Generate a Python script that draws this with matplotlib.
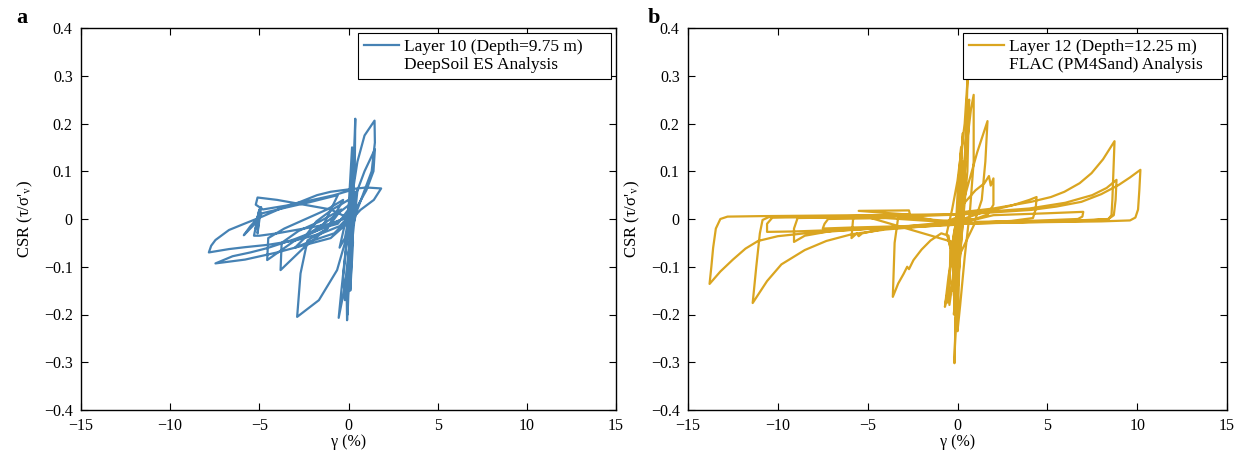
import numpy as np
import matplotlib.pyplot as plt
from matplotlib.lines import Line2D

plt.rcParams['font.family'] = ['Liberation Serif', 'DejaVu Serif']
plt.rcParams['mathtext.fontset'] = 'stix'

x_ticks = [-15, -10, -5, 0, 5, 10, 15]
x_tick_labels = ['\u221215', '\u221210', '\u22125', '0', '5', '10', '15']
y_ticks = [-0.4, -0.3, -0.2, -0.1, 0, 0.1, 0.2, 0.3, 0.4]
y_tick_labels = ['\u22120.4', '\u22120.3', '\u22120.2', '\u22120.1', '0', '0.1', '0.2', '0.3', '0.4']

# panel a: DeepSoil ES, layer 10 (strain %, CSR)
deepsoil_strain = [
    0.0, 0.2, 0.1, -0.2, -0.5, -0.2, 0.2, 0.35, 0.38, 0.3, 0.15, 0.0, -0.1, -0.08, 0.0, 0.1, 0.25,
    0.5, 0.9, 1.46, 1.48, 1.3, 0.9, 0.5, 0.2, 0.0, -0.2, -0.55, -0.4, -0.2, 0.0, 0.4, 0.9, 1.48, 1.4, 1.0,
    0.4, -0.5, -1.5, -3.0, -4.5, -5.8, -6.7, -7.83, -7.7, -7.46, -6.7, -5.78, -4.84, -3.8, -2.7, -1.76, -1.0, 0.0, 1.0, 1.83,
    1.42, 0.67, 0.2, 0.0, -0.05, 0.05, 0.2,
    -1.0, -2.5, -4.0, -5.8, -7.46, -6.5, -5.5, -4.56, -3.0, -1.5, 0.0,
    -1.0, -2.5, -4.0, -5.0, -5.3, -5.0, -5.2, -4.9, -5.1, -5.0, -5.25, -5.87, -5.5, -4.84, -3.5, -2.2, -0.6,
    -1.5, -3.0, -4.56, -4.5, -3.6, -2.4, -1.2, -0.3,
    -1.2, -2.5, -3.81, -3.75, -2.8, -1.6, -0.4,
    -1.2, -2.3, -2.69, -2.88, -1.66, -0.64, -0.2, 0.1,
    -1.0, -2.5, -4.0, -5.1, -5.2, -4.8, -3.5, -2.0, -0.8, 0.1, 0.3,
    -0.1, -0.3, -0.2, 0.0, 0.2, 0.3, 0.1, -0.1, 0.0,
    -0.8, -2.0, -3.0, -2.2, -1.2, -0.3, 0.4,
    -0.6, -1.6, -2.4, -1.8, -0.9, 0.0, 0.5,
    0.2, 0.1, 0.25, 0.15, 0.3, 0.2, 0.0,
]
deepsoil_csr = [
    0.0, 0.06, 0.02, -0.04, -0.06, -0.01, 0.05, 0.1, 0.21, 0.12, 0.02, -0.08, -0.16, -0.212, -0.12, -0.03, 0.06,
    0.12, 0.175, 0.206, 0.16, 0.1, 0.06, 0.02, -0.02, -0.07, -0.14, -0.207, -0.15, -0.08, -0.01, 0.05, 0.1, 0.146, 0.1, 0.06,
    0.02, -0.015, -0.03, -0.045, -0.054, -0.059, -0.063, -0.07, -0.056, -0.044, -0.023, -0.009, 0.005, 0.022, 0.036, 0.05, 0.057, 0.062, 0.066, 0.064,
    0.04, 0.019, 0.0, -0.08, -0.2, -0.1, 0.0,
    -0.04, -0.055, -0.07, -0.085, -0.093, -0.078, -0.07, -0.061, -0.042, -0.02, 0.005,
    -0.01, -0.02, -0.03, -0.035, -0.035, 0.02, -0.02, 0.025, -0.03, 0.015, -0.01, -0.034, -0.015, 0.012, 0.024, 0.035, 0.05,
    -0.02, -0.045, -0.086, -0.04, -0.02, 0.0, 0.02, 0.04,
    -0.02, -0.06, -0.107, -0.05, -0.025, -0.005, 0.02,
    -0.02, -0.045, -0.114, -0.205, -0.17, -0.107, -0.05, 0.0,
    0.02, 0.03, 0.04, 0.045, 0.03, 0.02, 0.028, 0.04, 0.05, 0.06, 0.1,
    -0.05, -0.12, -0.17, -0.1, -0.02, 0.08, 0.05, -0.05, 0.0,
    -0.03, -0.045, -0.06, -0.03, -0.005, 0.02, 0.04,
    -0.01, -0.02, -0.035, -0.005, 0.02, 0.04, 0.06,
    -0.05, -0.15, -0.05, 0.1, 0.0, 0.15, 0.02,
]

# panel b: FLAC (PM4Sand), layer 12
flac_strain = [
    0.0, 0.2, 0.3, 0.1, -0.2, -0.35, -0.1, 0.2, 0.45, 0.3, 0.0, -0.4, -0.6, -0.3, 0.0, 0.4, 0.56, 0.45, 0.25, 0.05, -0.1, -0.17, -0.05, 0.1,
    0.5, 0.75, 0.9, 0.9, 0.7, 0.4, 0.15, 0.0, 0.1, 0.3,
    1.5, 3.0, 4.0, 4.4, 4.35, 4.2, 3.0, 1.5, 0.3,
    -0.2, -0.5, -0.7, -0.6, -0.55, -0.4, -0.1,
    0.5, 1.1, 1.67, 1.55, 1.35, 1.0,
    -0.5, -2.0, -3.3, -3.5, -3.6, -3.3, -3.0, -2.8, -2.7, -2.45, -2.0, -1.5, -0.9, -0.5, -0.4, -0.45, -0.3, -0.1,
    0.3, 1.0, 1.5, 1.75, 1.85, 2.0, 2.0, 1.7, 1.0,
    -1.0, -3.0, -5.5, -2.7, -2.65, -4.0, -5.8, -5.9, -5.6, -5.5, -5.3, -4.0, -2.0, 0.0,
    0.4, 2.0, 4.1, 5.2, 5.95, 6.8, 7.46, 8.1, 8.74, 8.68, 8.62, 8.57, 8.4, 7.0, 4.0, 0.5,
    0.0, -3.0, -5.9, -8.5, -10.0, -11.1, -11.8, -12.5, -13.2, -13.8, -13.7, -13.6, -13.45, -13.2, -12.8, -11.0, -8.0, -3.0, 0.0,
    0.3, 0.5, 0.65, 0.55, 0.2, -0.1, -0.05, 0.0,
    -2.0, -4.0, -5.9, -7.3, -8.5, -9.8, -10.6, -11.4, -11.2, -11.0, -10.85, -10.5, -6.0, -2.0, 0.0,
    -4.0, -10.3, -10.6, -10.6, -9.0, -6.0, -3.0, 0.0,
    0.4, 4.1, 5.5, 6.9, 8.0, 8.96, 9.6, 10.18, 10.12, 10.05, 9.9, 9.6, 8.0, 4.0, 0.0,
    -0.3, -0.15, 0.1, 0.3, 0.2, -0.1,
    -5.0, -8.9, -9.1, -9.1, -8.5, -7.0, -4.0, -1.0,
    0.5, 4.0, 6.0, 7.5, 8.3, 8.85, 8.8, 8.7, 8.4, 5.0, 0.0,
    -4.0, -7.2, -7.4, -7.5, -6.0, -3.0, 0.0,
    2.0, 5.0, 7.0, 6.95, 6.7, 4.0, 1.0,
    -0.2, 0.0, 0.2, -0.1, 0.1, -0.3, 0.3, -0.2, 0.25, -0.4, 0.0,
    0.3, -0.2, 0.4, -0.1, 0.2, 0.0,
]
flac_csr = [
    0.0, 0.05, 0.1, 0.03, -0.03, -0.07, -0.01, 0.06, 0.12, 0.04, -0.04, -0.06, -0.03, 0.02, 0.08, 0.2, 0.293, 0.15, 0.02, -0.1, -0.2, -0.302, -0.15, -0.02,
    0.15, 0.23, 0.26, 0.12, 0.02, -0.08, -0.18, -0.235, -0.1, 0.0,
    0.015, 0.028, 0.04, 0.046, 0.02, 0.002, -0.004, -0.007, -0.01,
    -0.05, -0.12, -0.184, -0.16, -0.175, -0.1, -0.02,
    0.06, 0.14, 0.205, 0.12, 0.04, 0.0,
    -0.004, 0.0, 0.004, -0.05, -0.163, -0.135, -0.115, -0.1, -0.105, -0.086, -0.064, -0.045, -0.03, -0.035, -0.06, -0.18, -0.14, -0.05,
    0.03, 0.06, 0.075, 0.09, 0.07, 0.085, 0.03, 0.01, 0.0,
    -0.005, 0.01, 0.017, 0.018, 0.01, 0.008, 0.005, -0.04, -0.03, -0.036, -0.03, -0.02, -0.012, -0.005,
    0.015, 0.022, 0.036, 0.046, 0.057, 0.075, 0.096, 0.125, 0.163, 0.1, 0.04, 0.008, 0.0, -0.004, -0.006, -0.01,
    -0.01, -0.016, -0.023, -0.03, -0.036, -0.046, -0.062, -0.085, -0.11, -0.136, -0.1, -0.06, -0.02, 0.0, 0.005, 0.006, 0.007, 0.009, 0.01,
    0.05, 0.2, 0.25, 0.1, -0.05, -0.2, -0.08, -0.01,
    -0.016, -0.022, -0.032, -0.046, -0.065, -0.095, -0.13, -0.176, -0.1, -0.03, -0.002, 0.004, 0.006, 0.008, 0.009,
    0.005, 0.003, -0.01, -0.027, -0.026, -0.022, -0.018, -0.012,
    0.01, 0.019, 0.026, 0.036, 0.052, 0.071, 0.087, 0.103, 0.06, 0.02, 0.003, -0.003, -0.005, -0.007, -0.01,
    -0.06, -0.2, 0.1, 0.11, 0.0, -0.05,
    0.004, 0.002, -0.02, -0.048, -0.035, -0.025, -0.018, -0.012,
    0.012, 0.022, 0.034, 0.05, 0.065, 0.082, 0.04, 0.008, 0.0, -0.006, -0.008,
    0.002, 0.0, -0.01, -0.02, -0.018, -0.015, -0.01,
    0.008, 0.012, 0.015, 0.005, 0.0, -0.004, -0.006,
    -0.1, 0.05, 0.15, -0.12, 0.03, -0.15, 0.12, -0.2, 0.08, -0.1, 0.0,
    0.18, -0.16, 0.1, -0.22, 0.05, 0.0,
]

panels = [
    ('a', deepsoil_strain, deepsoil_csr, '#4682B4', 'Layer 10 (Depth=9.75 m)     ', 'DeepSoil ES Analysis'),
    ('b', flac_strain, flac_csr, '#DAA520', 'Layer 12 (Depth=12.25 m)', 'FLAC (PM4Sand) Analysis   '),
]

fig = plt.figure(figsize=(12.47, 4.53), dpi=100)
boxes = [[81 / 1247, 43 / 453, 535 / 1247, 382 / 453],
         [688 / 1247, 43 / 453, 539 / 1247, 382 / 453]]
letter_x = [16 / 1247, 648 / 1247]

for i, (letter, xs, ys, color, lab1, lab2) in enumerate(panels):
    ax = fig.add_axes(boxes[i])
    ax.plot(xs, ys, color=color, lw=1.6)
    ax.set_xlim(-15, 15)
    ax.set_ylim(-0.4, 0.4)
    ax.set_xticks(x_ticks)
    ax.set_xticklabels(x_tick_labels)
    ax.set_yticks(y_ticks)
    ax.set_yticklabels(y_tick_labels)
    ax.tick_params(direction='in', top=True, right=True, length=5, width=0.8, labelsize=11.5, pad=6)
    for s in ax.spines.values():
        s.set_linewidth(1.0)
    ax.set_xlabel('\u03b3 (%)', fontsize=11.5, labelpad=0)
    ax.set_ylabel("CSR (\u03c4/\u03c3'$_{\\rm v}$)", fontsize=12, labelpad=6)

    h1 = Line2D([], [], color=color, lw=1.6)
    h2 = Line2D([], [], color='none')
    leg = ax.legend([h1, h2], [lab1, lab2], loc='upper right', fontsize=12.5,
                    frameon=True, fancybox=False, edgecolor='black', framealpha=1,
                    borderaxespad=0.3, handlelength=2.0, handletextpad=0.3,
                    labelspacing=0.1, borderpad=0.35)
    leg.get_frame().set_linewidth(0.8)

    fig.text(letter_x[i], 1 - 18 / 453, letter, fontsize=16, fontweight='bold', va='center')

fig.savefig('out.png', dpi=100)
